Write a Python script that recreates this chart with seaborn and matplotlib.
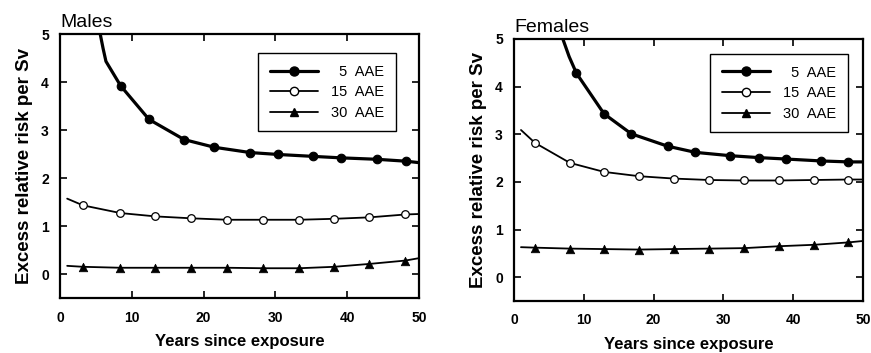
import matplotlib
matplotlib.use("Agg")
import matplotlib.pyplot as plt
from matplotlib.lines import Line2D
import seaborn as sns

# ---------------- data ----------------
series_labels = ["\u20075  AAE", "15  AAE", "30  AAE"]
x_ticks = [0, 10, 20, 30, 40, 50]
y_ticks = [0, 1, 2, 3, 4, 5]

# Males
m5_x = [5.6, 6.0, 6.4, 8.45, 12.4, 17.3, 21.5, 26.5, 30.4, 35.3, 39.1, 44.1, 48.2, 50.0]
m5_y = [5.0, 4.7, 4.43, 3.92, 3.22, 2.80, 2.64, 2.53, 2.49, 2.45, 2.42, 2.39, 2.35, 2.32]
m5_mark = slice(3, 13)
m15_x = [1.0, 3.2, 8.4, 13.3, 18.3, 23.3, 28.3, 33.3, 38.2, 43.1, 48.1, 50.0]
m15_y = [1.57, 1.43, 1.27, 1.20, 1.16, 1.13, 1.13, 1.13, 1.15, 1.18, 1.24, 1.25]
m30_x = [1.0, 3.2, 8.4, 13.3, 18.3, 23.3, 28.3, 33.3, 38.2, 43.1, 48.1, 50.0]
m30_y = [0.17, 0.15, 0.13, 0.13, 0.13, 0.13, 0.12, 0.12, 0.15, 0.21, 0.28, 0.33]
m_mark = slice(1, 11)

# Females
f5_x = [7.0, 7.9, 8.95, 12.9, 16.8, 22.0, 26.0, 31.0, 35.1, 39.0, 44.0, 47.9, 50.0]
f5_y = [5.0, 4.63, 4.28, 3.43, 3.01, 2.75, 2.62, 2.55, 2.51, 2.48, 2.44, 2.42, 2.42]
f5_mark = slice(2, 12)
f15_x = [1.0, 3.0, 8.0, 12.9, 17.9, 22.9, 28.0, 33.0, 38.0, 43.0, 47.9, 50.0]
f15_y = [3.09, 2.82, 2.40, 2.21, 2.12, 2.07, 2.04, 2.03, 2.03, 2.04, 2.05, 2.05]
f30_x = [1.0, 3.0, 8.0, 12.9, 17.9, 22.9, 28.0, 33.0, 38.0, 43.0, 47.9, 50.0]
f30_y = [0.63, 0.62, 0.60, 0.59, 0.58, 0.59, 0.60, 0.61, 0.65, 0.68, 0.73, 0.76]
f_mark = slice(1, 11)

# ---------------- style ----------------
sns.set_theme(style="ticks")
plt.rcParams["font.family"] = ["Liberation Sans", "DejaVu Sans"]
plt.rcParams.update({"text.color": "black", "axes.labelcolor": "black",
                     "xtick.color": "black", "ytick.color": "black",
                     "axes.edgecolor": "black"})

fig = plt.figure(figsize=(8.71, 3.53), dpi=100)
axL = fig.add_axes([60 / 871, 1 - 298 / 353, 359 / 871, 264 / 353])
axR = fig.add_axes([514 / 871, 1 - 301 / 353, 349 / 871, 262 / 353])

INK = "black"


def draw(ax, x5, y5, s5, x15, y15, x30, y30, sm):
    sns.lineplot(x=x5, y=y5, ax=ax, color=INK, lw=2.3, sort=False, estimator=None)
    sns.lineplot(x=x15, y=y15, ax=ax, color=INK, lw=1.3, sort=False, estimator=None)
    sns.lineplot(x=x30, y=y30, ax=ax, color=INK, lw=1.3, sort=False, estimator=None)
    sns.scatterplot(x=x5[s5], y=y5[s5], ax=ax, marker="o", s=38, color=INK,
                    edgecolor=INK, linewidth=0.8, zorder=5)
    sns.scatterplot(x=x15[sm], y=y15[sm], ax=ax, marker="o", s=30, color="white",
                    edgecolor=INK, linewidth=0.9, zorder=5)
    sns.scatterplot(x=x30[sm], y=y30[sm], ax=ax, marker="^", s=38, color=INK,
                    edgecolor=INK, linewidth=0.5, zorder=5)


draw(axL, m5_x, m5_y, m5_mark, m15_x, m15_y, m30_x, m30_y, m_mark)
draw(axR, f5_x, f5_y, f5_mark, f15_x, f15_y, f30_x, f30_y, f_mark)

handles = [
    Line2D([0], [0], color=INK, lw=2.3, marker="o", markersize=6.5,
           markerfacecolor=INK, markeredgecolor=INK),
    Line2D([0], [0], color=INK, lw=1.3, marker="o", markersize=6,
           markerfacecolor="white", markeredgecolor=INK),
    Line2D([0], [0], color=INK, lw=1.3, marker="^", markersize=6,
           markerfacecolor=INK, markeredgecolor=INK),
]

for ax, title, leg_anchor in [(axL, "Males", (0.935, 0.928)),
                              (axR, "Females", (0.957, 0.943))]:
    ax.set_xlim(0, 50)
    ax.set_ylim(-0.5, 5.0)
    ax.set_xticks(x_ticks)
    ax.set_yticks(y_ticks)
    ax.tick_params(direction="in", length=5, width=1.2, top=True, right=True,
                   colors=INK, labelcolor=INK, labelsize=10)
    ax.tick_params(axis="x", pad=9)
    ax.tick_params(axis="y", pad=8)
    for lab in ax.get_xticklabels() + ax.get_yticklabels():
        lab.set_fontweight("bold")
        lab.set_color(INK)
    for sp in ax.spines.values():
        sp.set_visible(True)
        sp.set_linewidth(1.6)
        sp.set_color(INK)
    ax.set_xlabel("Years since exposure", fontsize=12, fontweight="bold",
                  labelpad=7, color=INK)
    ax.set_ylabel("Excess relative risk per Sv", fontsize=13.5, fontweight="bold",
                  labelpad=6, color=INK)
    ax.set_title(title, loc="left", fontsize=14, pad=5, color=INK)
    leg = ax.legend(handles, series_labels, loc="upper right",
                    bbox_to_anchor=leg_anchor, borderaxespad=0, fontsize=10.5,
                    handlelength=3.3, handletextpad=0.9, labelspacing=0.45,
                    borderpad=0.8, frameon=True, fancybox=False, framealpha=1,
                    edgecolor=INK, labelcolor=INK)
    leg.get_frame().set_linewidth(1.0)

fig.savefig("out.png", dpi=100)
